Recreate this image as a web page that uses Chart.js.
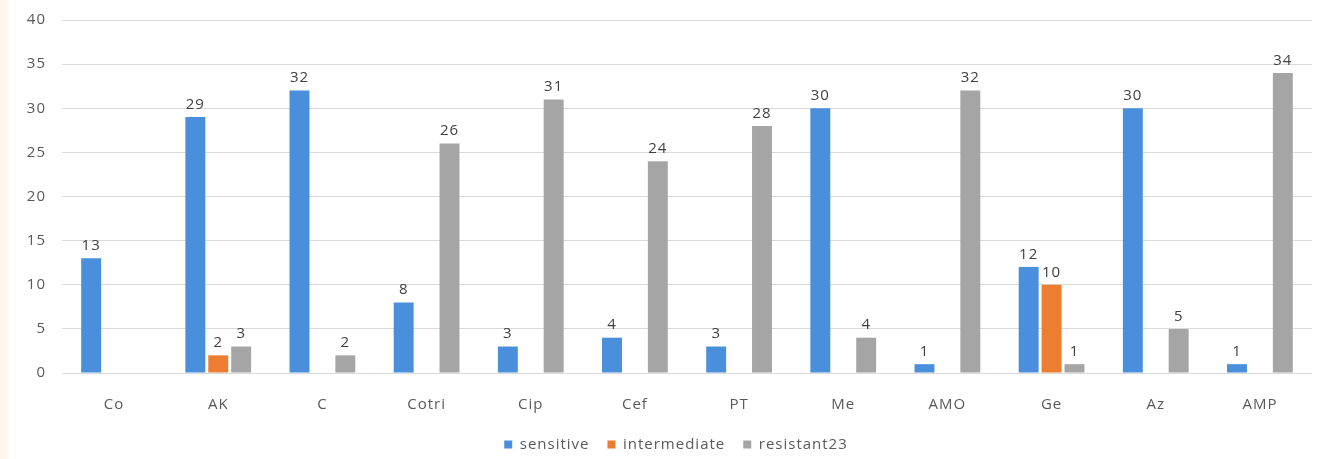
<!DOCTYPE html>
<html>
<head>
<meta charset="utf-8">
<script src="https://cdn.jsdelivr.net/npm/chart.js@4/dist/chart.umd.min.js"></script>
<style>
  html, body { margin: 0; padding: 0; background: #fff8e8; }
  #wrap { position: absolute; left: 8px; top: 0; width: 1321px; height: 459px; background: #fff; }
</style>
</head>
<body>
<div id="wrap"><canvas id="myChart" width="1321" height="459"></canvas></div>
<script>
// drug names and counts per category
const drugs = ['Co', 'AK', 'C', 'Cotri', 'Cip', 'Cef', 'PT', 'Me', 'AMO', 'Ge', 'Az', 'AMP'];
const sensitive = [13, 29, 32, 8, 3, 4, 3, 30, 1, 12, 30, 1];
const intermediate = [null, 2, null, null, null, null, null, null, null, 10, null, null];
const resistant = [null, 3, 2, 26, 31, 24, 28, 4, 32, 1, 5, 34];
const yTicks = [0, 5, 10, 15, 20, 25, 30, 35, 40];

const textFont = { family: 'Open Sans', size: 15 };

// wider letter spacing for all chart text
const spacing = {
    id: 'spacing',
    beforeLayout(chart) { chart.ctx.letterSpacing = '1px'; },
    beforeDraw(chart) { chart.ctx.letterSpacing = '1px'; }
};

// trim a few pixels off the legend box so it sits lower, and nudge it right
const legendTrim = {
    id: 'legendTrim',
    beforeInit(chart) {
        const fit = chart.legend.fit;
        chart.legend.fit = function () {
            fit.call(this);
            this.height -= 3;
        };
    },
    afterLayout(chart) {
        chart.legend.left += 16;
        chart.legend.right += 16;
    }
};

// value labels above each bar
const barLabels = {
    id: 'barLabels',
    afterDatasetsDraw(chart) {
        const ctx = chart.ctx;
        ctx.save();
        ctx.font = '15px "Open Sans"';
        ctx.fillStyle = '#404040';
        ctx.textAlign = 'center';
        ctx.textBaseline = 'bottom';
        chart.data.datasets.forEach((ds, i) => {
            chart.getDatasetMeta(i).data.forEach((bar, j) => {
                if (ds.data[j] == null) return;
                ctx.fillText(ds.data[j], bar.x, bar.y - 5);
            });
        });
        ctx.restore();
    }
};

const ctx = document.getElementById('myChart').getContext('2d');
const myChart = new Chart(ctx, {
    type: 'bar',
    data: {
        labels: drugs,
        datasets: [
            { label: 'sensitive', data: sensitive, backgroundColor: '#4a8fdb' },
            { label: 'intermediate', data: intermediate, backgroundColor: '#ed7d31' },
            { label: 'resistant23', data: resistant, backgroundColor: '#a5a5a5' }
        ]
    },
    options: {
        responsive: false,
        animation: false,
        layout: { padding: { top: 20, right: 17, left: 0, bottom: 0 } },
        datasets: { bar: { categoryPercentage: 0.66, barPercentage: 0.87 } },
        scales: {
            x: {
                grid: { display: false },
                border: { display: false },
                ticks: { color: '#595959', font: textFont, padding: 15 },
                // pull the legend up closer to the category labels
                afterFit: scale => { scale.height -= 10; }
            },
            y: {
                min: 0,
                max: 40,
                afterBuildTicks: axis => { axis.ticks = yTicks.map(v => ({ value: v })); },
                afterFit: scale => {
                    scale.width = 54;
                    scale.paddingTop = 0;
                },
                grid: { color: '#d9d9d9', drawTicks: false },
                border: { display: false },
                ticks: { color: '#595959', font: textFont, padding: 16 }
            }
        },
        plugins: {
            legend: {
                position: 'bottom',
                labels: {
                    boxWidth: 8,
                    boxHeight: 8,
                    padding: 18,
                    color: '#595959',
                    font: textFont
                }
            },
            tooltip: { enabled: false }
        }
    },
    plugins: [spacing, legendTrim, barLabels]
});
</script>
</body>
</html>
